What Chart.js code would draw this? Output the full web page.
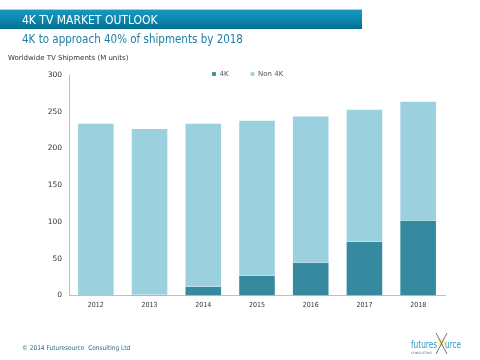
<!DOCTYPE html>
<html>
<head>
<meta charset="utf-8">
<script src="https://cdn.jsdelivr.net/npm/chart.js@4/dist/chart.umd.min.js"></script>
<style>
html,body{margin:0;padding:0;background:#fff;}
#wrap{position:relative;width:480px;height:360px;overflow:hidden;font-family:"DejaVu Sans Condensed","DejaVu Sans",sans-serif;}
#c{position:absolute;left:0;top:0;}
#hdr{position:absolute;left:0;top:9px;width:362px;height:20px;background:linear-gradient(#1a97c0,#0a86ad 55%,#006d8c);border-top:1px solid #9fd0e2;box-sizing:border-box;}
#hdr span{position:absolute;left:22px;top:3px;color:#fff;font-size:12px;line-height:14px;white-space:nowrap;}
#sub{position:absolute;left:22px;top:31px;color:#1e7fa7;font-size:11.5px;line-height:16px;white-space:nowrap;}
#ytitle{position:absolute;left:8px;top:54px;color:#333;font-size:7px;line-height:9px;white-space:nowrap;font-family:"DejaVu Sans",sans-serif;}
#foot{position:absolute;left:22px;top:344px;color:#2a6a8a;font-size:6.5px;line-height:9px;white-space:nowrap;}
#logo{position:absolute;left:408px;top:330px;}
</style>
</head>
<body>
<div id="wrap">
<canvas id="c" width="480" height="360"></canvas>
<div id="hdr"><span>4K TV MARKET OUTLOOK</span></div>
<div id="sub">4K to approach 40% of shipments by 2018</div>
<div id="ytitle">Worldwide TV Shipments (M units)</div>
<div id="foot">© 2014 Futuresource&nbsp; Consulting Ltd</div>
<svg id="logo" width="60" height="28" viewBox="0 0 60 28">
  <defs><radialGradient id="g"><stop offset="0" stop-color="#ffe27a"/><stop offset="1" stop-color="#ffe27a" stop-opacity="0"/></radialGradient></defs>
  <circle cx="33.5" cy="12.5" r="6" fill="url(#g)"/>
  <line x1="28" y1="3" x2="39" y2="24" stroke="#56657a" stroke-width="0.9"/>
  <line x1="39" y1="3" x2="28" y2="24" stroke="#56657a" stroke-width="0.9"/>
  <text x="3" y="18" font-family="DejaVu Sans Condensed, sans-serif" font-size="10.5" fill="#2f98c6" textLength="26" lengthAdjust="spacingAndGlyphs">futures</text>
  <text x="37" y="18" font-family="DejaVu Sans Condensed, sans-serif" font-size="10.5" fill="#2f98c6" textLength="16" lengthAdjust="spacingAndGlyphs">urce</text>
  <text x="3" y="24" font-family="DejaVu Sans, sans-serif" font-size="3" fill="#5a7a90" textLength="21" lengthAdjust="spacingAndGlyphs">CONSULTING</text>
</svg>
</div>
<script>
const categories = ['2012','2013','2014','2015','2016','2017','2018'];
const fourK = [0, 1, 12, 27, 45, 73, 102];
const non4K = [235, 227, 223, 212, 200, 181, 163];
const seriesNames = ['4K', 'Non 4K'];
const yMin = 0, yMax = 300, yStep = 50;

const legendMover = {
  id: 'legendMover',
  afterLayout(chart) {
    const lg = chart.legend;
    if (!lg) return;
    const pad = lg.options.labels.padding;
    const w = lg.right - lg.left;
    const h = lg.bottom - lg.top;
    lg.left = 212 - pad;
    lg.right = lg.left + w;
    lg.top = 74 - 3.5 - pad;
    lg.bottom = lg.top + h;
  }
};

new Chart(document.getElementById('c'), {
  type: 'bar',
  data: {
    labels: categories,
    datasets: [
      {label: seriesNames[0], data: fourK, backgroundColor: '#368a9f', borderColor: 'rgba(255,255,255,0.35)', borderWidth: {left:1,right:1,top:0,bottom:0}},
      {label: seriesNames[1], data: non4K, backgroundColor: '#9bd0df', borderColor: 'rgba(255,255,255,0.45)', borderWidth: {left:1,right:1,top:1,bottom:0}}
    ]
  },
  options: {
    responsive: false,
    animation: false,
    devicePixelRatio: 1,
    layout: {padding: {left: 0, top: 36, right: 35, bottom: 0}},
    datasets: {bar: {barPercentage: 0.7, categoryPercentage: 1}},
    plugins: {
      title: {display: false},
      tooltip: {enabled: false},
      legend: {
        position: 'top',
        align: 'start',
        labels: {boxWidth: 4, boxHeight: 4, padding: 22, color: '#555', font: {family: 'DejaVu Sans', size: 7}}
      }
    },
    scales: {
      x: {
        stacked: true,
        offset: true,
        grid: {display: false, drawTicks: false},
        border: {display: true, color: '#bfbfbf', width: 1},
        ticks: {color: '#333', padding: 5, font: {family: 'DejaVu Sans Condensed', size: 7}, maxRotation: 0},
        afterFit(s) { s.height = 64.5; }
      },
      y: {
        stacked: true,
        min: yMin, max: yMax,
        grid: {display: false, drawTicks: false},
        border: {display: true, color: '#bfbfbf', width: 1},
        ticks: {stepSize: yStep, color: '#333', padding: 7, font: {family: 'DejaVu Sans', size: 7.5}},
        afterFit(s) { s.width = 69; }
      }
    }
  },
  plugins: [legendMover]
});
</script>
</body>
</html>
